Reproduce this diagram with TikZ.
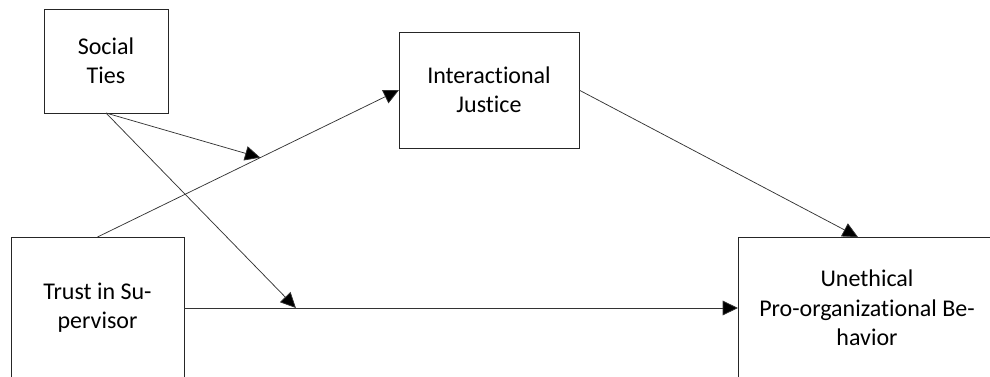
\documentclass[tikz,border=0pt]{standalone}
\usepackage{fontspec}
\setmainfont{Carlito}[Ligatures={NoCommon,NoRare}]
\usetikzlibrary{arrows.meta,calc}
\begin{document}
\begin{tikzpicture}[x=0.75pt,y=-0.75pt,
  box/.style={draw=black!85,line width=0.75pt,inner sep=0pt,outer sep=0pt,align=center,
    font=\fontsize{18}{22}\selectfont},
  conn/.style={draw=black!80,line width=0.55pt,-{Triangle[length=11.5pt,width=11pt,fill=black]}}]
\useasboundingbox (0,0) rectangle (990,376);
\node[box,minimum width=93pt,minimum height=78pt] (st) at (106,61) {Social\\Ties};
\node[box,minimum width=135pt,minimum height=87pt] (ij) at (489,90) {Interactional\\Justice};
\node[box,minimum width=129.75pt,minimum height=106.5pt] (tr) at (97.5,308) {Trust in Su-\\pervisor};
\node[box,minimum width=193.5pt,minimum height=106.5pt] (ue) at (867,308) {Unethical\\Pro-organizational Be-\\havior};
\coordinate (uetop) at ($(ue.north west)!0.465!(ue.north east)$);
\draw[conn] (tr.north) -- (ij.west) coordinate[pos=0.54] (m1);
\draw[conn] (tr.east) -- (ue.west) coordinate[pos=0.202] (m2);
\draw[conn] (st.south) -- (m1);
\draw[conn] (st.south) -- (m2);
\draw[conn] (ij.east) -- (uetop);
\end{tikzpicture}
\end{document}
